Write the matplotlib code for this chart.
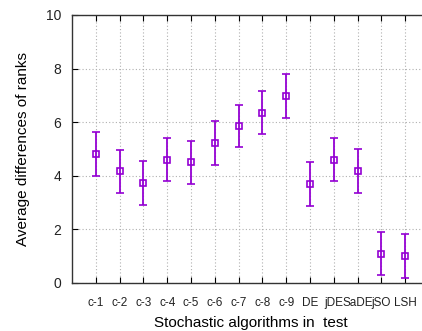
import matplotlib
matplotlib.use("Agg")
import matplotlib.pyplot as plt

plt.rcParams['font.family'] = ['Liberation Sans', 'DejaVu Sans']

# data
algorithms = ['c-1', 'c-2', 'c-3', 'c-4', 'c-5', 'c-6', 'c-7', 'c-8', 'c-9',
              'DE', 'jDE', 'SaDE', 'jSO', 'LSH']
avg_rank_diff = [4.81, 4.18, 3.73, 4.59, 4.51, 5.22, 5.84, 6.36, 6.98,
                 3.69, 4.59, 4.18, 1.10, 0.99]
err_low = [0.81, 0.82, 0.82, 0.80, 0.82, 0.82, 0.78, 0.80, 0.82,
           0.80, 0.80, 0.82, 0.82, 0.80]
err_high = [0.82, 0.80, 0.82, 0.82, 0.79, 0.82, 0.80, 0.82, 0.82,
            0.82, 0.82, 0.82, 0.80, 0.84]
y_ticks = [0, 2, 4, 6, 8, 10]

color = '#9400D3'
xpos = list(range(1, len(algorithms) + 1))

fig = plt.figure(figsize=(4.22, 3.31), dpi=100)
ax = fig.add_axes([72 / 422, 48 / 331, 357 / 422, 268 / 331])

ax.errorbar(xpos, avg_rank_diff, yerr=[err_low, err_high], fmt='s',
            color=color, mfc='none', mec=color, ms=5, mew=1.2,
            elinewidth=1.3, capsize=3, capthick=1.3)

ax.set_xlim(0, 15)
ax.set_ylim(0, 10)
ax.set_xticks(xpos)
ax.set_xticklabels(algorithms, fontsize=8.5)
ax.set_yticks(y_ticks)
ax.tick_params(axis='y', labelsize=10, direction='in', length=4, pad=8)
ax.tick_params(axis='x', direction='in', length=4, pad=10, top=True)
for lbl in ax.get_yticklabels() + ax.get_xticklabels():
    lbl.set_color('#222222')

ax.grid(True, linestyle=(0, (1, 2)), color='#b0b0b0', linewidth=0.8)
ax.set_axisbelow(True)
for side in ['left', 'top', 'bottom', 'right']:
    ax.spines[side].set_color('#333333')
    ax.spines[side].set_linewidth(1.0)

ax.set_xlabel('Stochastic algorithms in  test', fontsize=11, labelpad=5)
ax.set_ylabel('Average differences of ranks', fontsize=11, labelpad=11)

fig.savefig('out.png', dpi=100)
